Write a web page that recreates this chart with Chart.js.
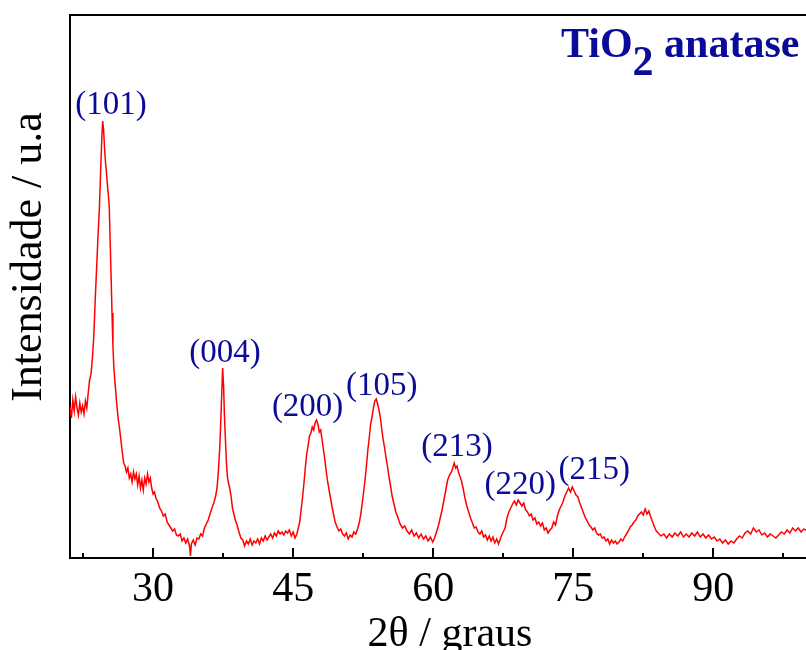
<!DOCTYPE html>
<html>
<head>
<meta charset="utf-8">
<script src="https://cdn.jsdelivr.net/npm/chart.js@4.4.1/dist/chart.umd.min.js"></script>
<style>
  html, body { margin: 0; padding: 0; overflow: hidden; background: #fff; }
  canvas { display: block; }
</style>
</head>
<body>
<canvas id="xrd" width="830" height="650"></canvas>
<script>
// 2theta scan (degrees) and intensity (arb. units)
const twoTheta = [
  21.10, 21.25, 21.40, 21.55, 21.70, 21.85, 22.00, 22.15, 22.30, 22.45,
  22.60, 22.75, 22.90, 23.05, 23.20, 23.35, 23.50, 23.65, 23.80, 23.95,
  24.10, 24.25, 24.40, 24.50, 24.60, 24.70, 24.80, 24.90, 25.00, 25.10,
  25.20, 25.30, 25.40, 25.50, 25.60, 25.70, 25.80, 25.95, 26.10, 26.25,
  26.40, 26.55, 26.70, 26.85, 27.00, 27.15, 27.30, 27.45, 27.60, 27.75,
  27.90, 28.05, 28.20, 28.35, 28.50, 28.65, 28.80, 28.95, 29.10, 29.25,
  29.40, 29.55, 29.70, 29.85, 30.00, 30.15, 30.30, 30.50, 30.70, 30.90,
  31.10, 31.30, 31.50, 31.70, 31.90, 32.10, 32.30, 32.50, 32.70, 32.90,
  33.10, 33.30, 33.50, 33.70, 33.90, 34.00, 34.10, 34.30, 34.50, 34.70,
  34.90, 35.10, 35.30, 35.50, 35.70, 35.90, 36.10, 36.30, 36.50, 36.70,
  36.85, 37.00, 37.15, 37.30, 37.45, 37.55, 37.65, 37.75, 37.85, 37.95,
  38.05, 38.20, 38.35, 38.50, 38.65, 38.80, 39.00, 39.20, 39.40, 39.60,
  39.80, 40.00, 40.20, 40.40, 40.60, 40.80, 41.00, 41.20, 41.40, 41.60,
  41.80, 42.00, 42.20, 42.40, 42.60, 42.80, 43.00, 43.20, 43.40, 43.60,
  43.80, 44.00, 44.20, 44.40, 44.60, 44.80, 45.00, 45.20, 45.40, 45.55,
  45.70, 45.85, 46.00, 46.15, 46.30, 46.45, 46.60, 46.75, 46.90, 47.05,
  47.20, 47.35, 47.50, 47.65, 47.80, 47.95, 48.10, 48.25, 48.40, 48.55,
  48.70, 48.85, 49.00, 49.15, 49.30, 49.50, 49.70, 49.90, 50.10, 50.30,
  50.50, 50.70, 50.90, 51.10, 51.30, 51.50, 51.70, 51.90, 52.10, 52.25,
  52.40, 52.55, 52.70, 52.85, 53.00, 53.15, 53.30, 53.45, 53.60, 53.75,
  53.90, 54.05, 54.20, 54.35, 54.50, 54.65, 54.80, 54.95, 55.10, 55.25,
  55.40, 55.60, 55.80, 56.00, 56.20, 56.45, 56.70, 56.95, 57.20, 57.45,
  57.70, 57.95, 58.20, 58.45, 58.70, 58.95, 59.20, 59.45, 59.70, 59.95,
  60.15, 60.35, 60.55, 60.75, 60.95, 61.15, 61.35, 61.55, 61.75, 61.95,
  62.10, 62.25, 62.40, 62.55, 62.70, 62.85, 63.00, 63.20, 63.40, 63.60,
  63.80, 64.00, 64.20, 64.40, 64.60, 64.80, 65.00, 65.20, 65.40, 65.60,
  65.80, 66.00, 66.20, 66.40, 66.60, 66.80, 67.00, 67.15, 67.30, 67.50,
  67.70, 67.90, 68.10, 68.30, 68.50, 68.70, 68.90, 69.10, 69.30, 69.50,
  69.70, 69.90, 70.10, 70.30, 70.50, 70.70, 70.90, 71.10, 71.30, 71.50,
  71.70, 71.90, 72.10, 72.30, 72.50, 72.70, 72.90, 73.10, 73.30, 73.50,
  73.70, 73.90, 74.10, 74.30, 74.50, 74.70, 74.90, 75.10, 75.30, 75.50,
  75.70, 75.90, 76.10, 76.30, 76.50, 76.70, 76.90, 77.10, 77.30, 77.50,
  77.70, 77.90, 78.10, 78.30, 78.50, 78.70, 78.90, 79.10, 79.30, 79.50,
  79.70, 79.90, 80.10, 80.30, 80.50, 80.70, 80.90, 81.10, 81.30, 81.50,
  81.70, 81.90, 82.10, 82.30, 82.50, 82.70, 82.90, 83.10, 83.30, 83.50,
  83.70, 83.90, 84.10, 84.40, 84.70, 85.00, 85.30, 85.60, 85.90, 86.20,
  86.50, 86.80, 87.10, 87.40, 87.70, 88.00, 88.30, 88.60, 88.90, 89.20,
  89.50, 89.80, 90.10, 90.40, 90.70, 91.00, 91.30, 91.60, 91.90, 92.20,
  92.50, 92.80, 93.10, 93.40, 93.70, 94.00, 94.30, 94.60, 94.90, 95.20,
  95.50, 95.80, 96.10, 96.40, 96.70, 97.00, 97.30, 97.60, 97.90, 98.20,
  98.50, 98.80, 99.10, 99.40, 99.70, 100.00
];
const intensity = [
  152, 140, 158, 147, 161, 150, 143, 155, 146, 152,
  144, 157, 150, 165, 178, 184, 200, 222, 258, 290,
  322, 350, 392, 418, 437, 428, 410, 396, 386, 374,
  364, 352, 318, 282, 245, 212, 190, 172, 155, 140,
  130, 118, 106, 95, 92, 86, 90, 80, 84, 76,
  86, 79, 84, 73, 82, 70, 78, 68, 80, 74,
  84, 76, 80, 70, 64, 66, 60, 56, 50, 47,
  42, 44, 36, 33, 30, 27, 29, 23, 22, 24,
  17, 20, 15, 19, 12, 2, 14, 18, 13, 20,
  19, 24, 22, 30, 34, 38, 44, 50, 55, 62,
  70, 88, 112, 150, 190, 172, 140, 118, 96, 82,
  76, 70, 62, 50, 44, 38, 33, 26, 20, 18,
  12, 17, 14, 19, 13, 17, 15, 19, 14, 20,
  17, 22, 18, 21, 24, 20, 25, 22, 27, 24,
  26, 23, 27, 25, 28, 22, 26, 20, 24, 30,
  36, 48, 60, 74, 90, 104, 112, 122, 125, 131,
  128, 135, 138, 134, 126, 128, 118, 108, 98, 86,
  76, 68, 60, 52, 45, 36, 31, 27, 29, 24,
  22, 25, 19, 23, 21, 26, 24, 29, 36, 44,
  55, 66, 78, 92, 108, 120, 134, 141, 150, 157,
  159, 154, 148, 140, 128, 118, 110, 100, 92, 82,
  74, 62, 54, 46, 41, 34, 30, 32, 27, 24,
  28, 22, 25, 20, 24, 19, 22, 17, 21, 16,
  20, 26, 32, 40, 48, 58, 68, 78, 83, 86,
  90, 95, 90, 92, 86, 82, 78, 70, 60, 52,
  46, 40, 35, 30, 31, 26, 24, 27, 21, 23,
  18, 22, 17, 21, 15, 19, 14, 18, 22, 26,
  30, 40, 46, 50, 54, 57, 53, 58, 55, 52,
  55, 48, 46, 42, 44, 38, 40, 34, 36, 32,
  35, 28, 30, 25, 28, 30, 36, 33, 42, 48,
  52, 56, 62, 66, 70, 66, 71, 67, 63, 61,
  55, 50, 45, 40, 37, 33, 31, 28, 30, 25,
  23, 24, 20, 21, 17, 19, 14, 18, 15, 17,
  14, 16, 19, 17, 21, 24, 27, 31, 33, 36,
  38, 42, 44, 46, 43, 49, 44, 47, 41, 36,
  31, 27, 25, 22, 24, 20, 24, 21, 25, 22,
  26, 21, 24, 21, 25, 22, 26, 21, 24, 20,
  23, 19, 21, 17, 19, 15, 18, 14, 17, 15,
  19, 22, 20, 25, 27, 24, 30, 26, 28, 23,
  25, 21, 24, 22, 20, 23, 26, 24, 28, 25,
  30, 27, 30, 26, 29, 28
];

const xTicks = [30, 45, 60, 75, 90];
const xMinorTicks = [22.5, 37.5, 52.5, 67.5, 82.5, 97.5];

// Miller indices and where their labels sit (2theta, intensity)
const peakLabels = ['(101)', '(004)', '(200)', '(105)', '(213)', '(220)', '(215)'];
const peakAngle = [25.5, 37.71, 46.55, 54.5, 62.54, 69.32, 77.25];
const peakHeight = [453, 205, 151, 172, 111, 73, 88];

const serif = 'Liberation Serif';
const labelBlue = '#0b0b99';

const decor = {
  id: 'decor',
  afterDraw(chart) {
    const { ctx, chartArea: a, scales: { x, y } } = chart;
    ctx.save();

    // inward ticks on the bottom axis
    ctx.strokeStyle = '#000';
    ctx.lineWidth = 2;
    ctx.beginPath();
    xTicks.forEach(v => {
      const px = Math.round(x.getPixelForValue(v));
      ctx.moveTo(px, a.bottom);
      ctx.lineTo(px, a.bottom - 10);
    });
    xMinorTicks.forEach(v => {
      const px = Math.round(x.getPixelForValue(v));
      ctx.moveTo(px, a.bottom);
      ctx.lineTo(px, a.bottom - 5);
    });
    ctx.stroke();

    // peak indices
    ctx.fillStyle = labelBlue;
    ctx.font = '33px ' + serif;
    ctx.textAlign = 'center';
    ctx.textBaseline = 'middle';
    peakLabels.forEach((t, i) => {
      ctx.fillText(t, x.getPixelForValue(peakAngle[i]), y.getPixelForValue(peakHeight[i]));
    });

    // TiO2 anatase
    ctx.font = 'bold 42px ' + serif;
    ctx.textAlign = 'left';
    ctx.textBaseline = 'alphabetic';
    let tx = 561;
    ctx.fillText('TiO', tx, 57);
    tx += ctx.measureText('TiO').width;
    ctx.fillText('2', tx, 75);
    tx += ctx.measureText('2').width;
    ctx.fillText(' anatase', tx, 57);

    // y title
    ctx.fillStyle = '#000';
    ctx.font = '44px ' + serif;
    ctx.translate(41, 257);
    ctx.rotate(-Math.PI / 2);
    ctx.textAlign = 'center';
    ctx.fillText('Intensidade / u.a', 0, 0);

    ctx.restore();
  }
};

new Chart(document.getElementById('xrd'), {
  type: 'line',
  data: {
    datasets: [{
      data: twoTheta.map((t, i) => ({ x: t, y: intensity[i] })),
      borderColor: '#ff0000',
      borderWidth: 1.5,
      pointRadius: 0,
      tension: 0,
      fill: false
    }]
  },
  options: {
    responsive: false,
    animation: false,
    layout: { padding: { top: 15, right: 0, bottom: 0, left: 0 } },
    plugins: {
      legend: { display: false },
      tooltip: { enabled: false }
    },
    scales: {
      x: {
        type: 'linear',
        position: 'bottom',
        min: 21.1,
        max: 102.5,
        afterBuildTicks: s => { s.ticks = xTicks.map(v => ({ value: v })); },
        afterFit: s => { s.height = 92; },
        grid: { display: false, drawTicks: false },
        border: { display: true, color: '#000', width: 2 },
        ticks: { color: '#000', font: { family: serif, size: 42 }, padding: 7, maxRotation: 0, autoSkip: false },
        title: {
          display: true,
          text: '2θ / graus',
          color: '#000',
          font: { family: serif, size: 42, lineHeight: 1 },
          padding: { top: 0, bottom: -6 }
        }
      },
      xTop: {
        type: 'linear',
        position: 'top',
        min: 21.1,
        max: 102.5,
        afterFit: s => { s.height = 0; },
        grid: { display: false, drawTicks: false },
        border: { display: true, color: '#000', width: 2 },
        ticks: { display: false }
      },
      y: {
        min: 0,
        max: 543,
        afterFit: s => { s.width = 70; },
        grid: { display: false, drawTicks: false },
        border: { display: true, color: '#000', width: 2 },
        ticks: { display: false }
      }
    }
  },
  plugins: [decor]
});
</script>
</body>
</html>
